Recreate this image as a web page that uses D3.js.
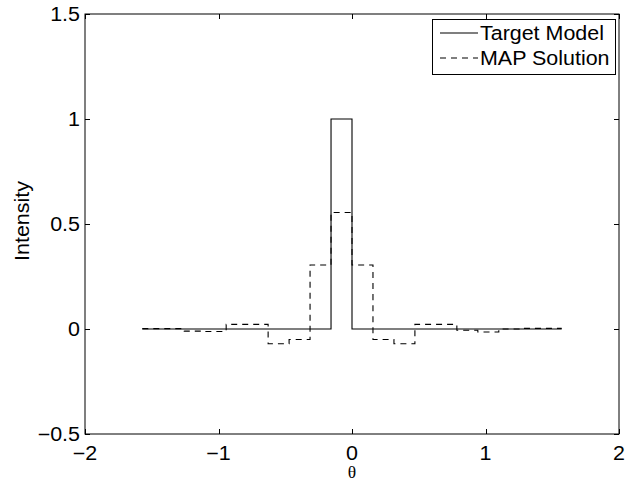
<!DOCTYPE html>
<html>
<head>
<meta charset="utf-8">
<script src="https://cdn.jsdelivr.net/npm/d3@7"></script>
<style>
  html, body { margin: 0; padding: 0; background: #fff; }
  svg { display: block; }
  text { font-family: "Liberation Sans", Arial, Helvetica, sans-serif; }
</style>
</head>
<body>
<svg id="chart" width="626" height="482"></svg>
<script>
// ---- data ----
const binEdges = [-1.5708, -1.4137, -1.2566, -1.0996, -0.9425, -0.7854, -0.6283, -0.4712,
                  -0.3142, -0.1571, 0.0, 0.1571, 0.3142, 0.4712, 0.6283, 0.7854,
                  0.9425, 1.0996, 1.2566, 1.4137, 1.5708];
const targetModel = [0, 0, 0, 0, 0, 0, 0, 0, 0, 1, 0, 0, 0, 0, 0, 0, 0, 0, 0, 0];
const mapSolution = [0.002, 0.002, -0.010, -0.012, 0.022, 0.022, -0.070, -0.050, 0.305, 0.555,
                     0.305, -0.050, -0.070, 0.022, 0.022, -0.006, -0.014, 0.000, 0.003, 0.003];
const xTicks = [-2, -1, 0, 1, 2];
const yTicks = [-0.5, 0, 0.5, 1, 1.5];
const seriesNames = ["Target Model", "MAP Solution"];

// ---- layout ----
const L = 85, R = 619, T = 14, B = 434;
const svg = d3.select("#chart");
const x = d3.scaleLinear().domain([-2, 2]).range([L, R]);
const y = d3.scaleLinear().domain([-0.5, 1.5]).range([B, T]);
const fmt = v => String(v).replace("-", "\u2212");
const tickLen = 5;
const SX = 1.1; // horizontal stretch of the reference's Helvetica rendering

function label(parent, px, py, str, anchor, size) {
  return parent.append("g").attr("transform", `translate(${px},${py}) scale(${SX},1)`)
    .append("text").attr("text-anchor", anchor).attr("font-size", size).text(str);
}

// data lines
const stepLine = d3.line()
  .x(d => x(d[0]))
  .y(d => y(d[1]))
  .curve(d3.curveStepAfter);
const toPts = vals => binEdges.map((e, i) => [e, vals[Math.min(i, vals.length - 1)]]);

svg.append("path")
  .attr("d", stepLine(toPts(targetModel)))
  .attr("fill", "none").attr("stroke", "#000").attr("stroke-width", 1.1);
svg.append("path")
  .attr("d", stepLine(toPts(mapSolution)))
  .attr("fill", "none").attr("stroke", "#000").attr("stroke-width", 1.1)
  .attr("stroke-dasharray", "6,5");

// axes box
const ax = svg.append("g");
ax.append("rect").attr("x", L).attr("y", T).attr("width", R - L).attr("height", B - T)
  .attr("fill", "none").attr("stroke", "#000").attr("stroke-width", 1);

// x ticks (bottom & top, inward)
xTicks.forEach(t => {
  const px = Math.round(x(t)) + 0.5;
  ax.append("line").attr("x1", px).attr("x2", px).attr("y1", B).attr("y2", B - tickLen).attr("stroke", "#000");
  ax.append("line").attr("x1", px).attr("x2", px).attr("y1", T).attr("y2", T + tickLen).attr("stroke", "#000");
  label(ax, x(t), 460, fmt(t), "middle", 19.5);
});
// y ticks (left & right, inward)
yTicks.forEach(t => {
  const py = Math.round(y(t)) + 0.5;
  ax.append("line").attr("x1", L).attr("x2", L + tickLen).attr("y1", py).attr("y2", py).attr("stroke", "#000");
  ax.append("line").attr("x1", R).attr("x2", R - tickLen).attr("y1", py).attr("y2", py).attr("stroke", "#000");
  label(ax, 80, y(t) + 7, fmt(t), "end", 19.5);
});

// axis labels
svg.append("text").attr("x", (L + R) / 2).attr("y", 478).attr("text-anchor", "middle")
  .style("font-family", "'Liberation Serif', 'Times New Roman', serif")
  .attr("font-size", 17.5).text("\u03B8");
svg.append("g").attr("transform", `translate(29,${(T + B) / 2 - 3}) rotate(-90) scale(${SX},1)`)
  .append("text").attr("text-anchor", "middle").attr("font-size", 19.5).text("Intensity");

// legend
const lg = svg.append("g");
lg.append("rect").attr("x", 432.5).attr("y", 19.5).attr("width", 183).attr("height", 55)
  .attr("fill", "#fff").attr("stroke", "#000").attr("stroke-width", 1);
const legY = [33, 58];
seriesNames.forEach((n, i) => {
  lg.append("line").attr("x1", 440).attr("x2", 478).attr("y1", legY[i]).attr("y2", legY[i])
    .attr("stroke", "#000").attr("stroke-width", 1.1)
    .attr("stroke-dasharray", i === 1 ? "6,5" : null);
  label(lg, 480, legY[i] + 7, n, "start", 19.5);
});
</script>
</body>
</html>
